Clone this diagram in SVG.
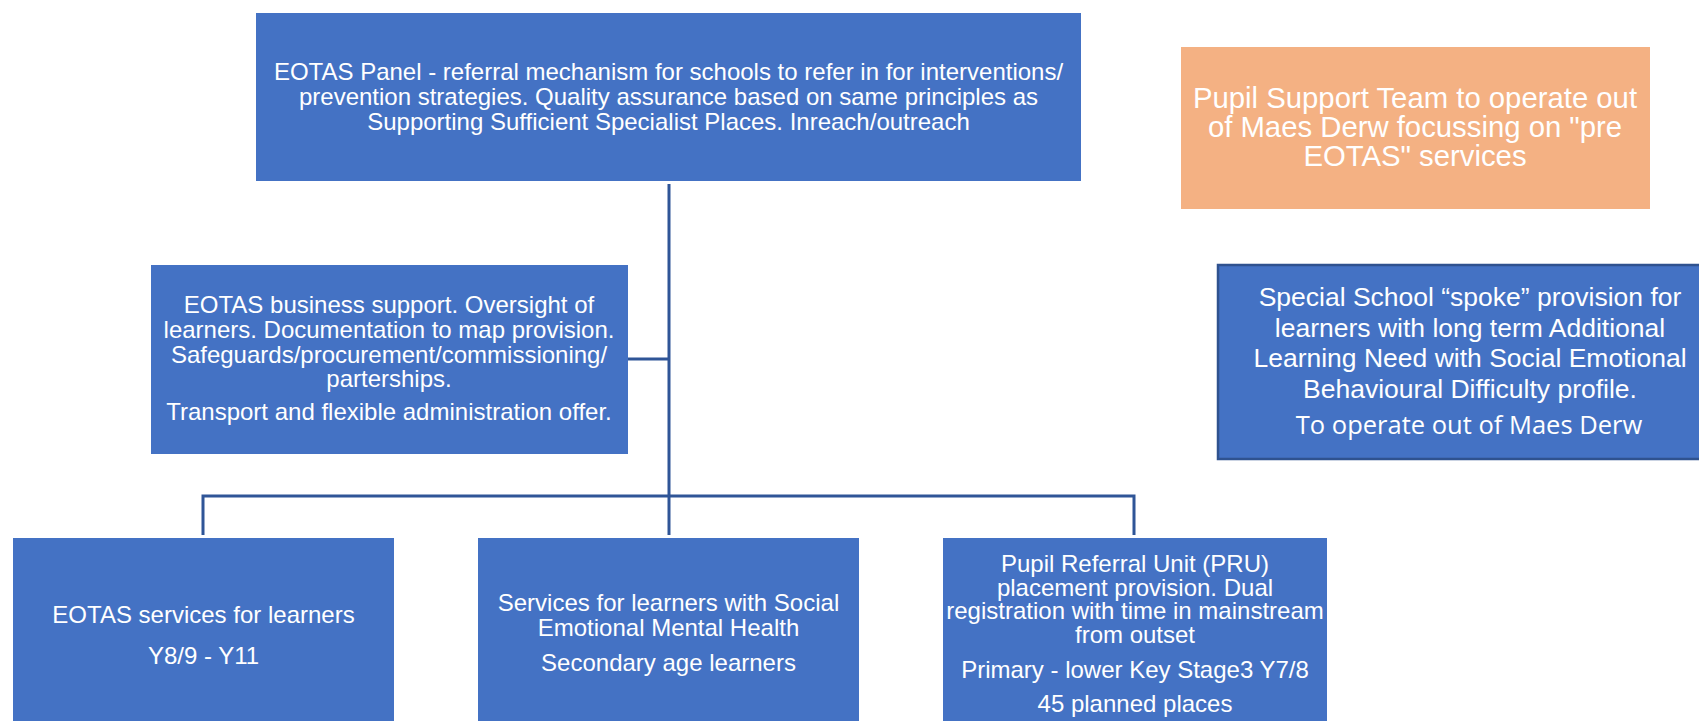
<svg xmlns="http://www.w3.org/2000/svg" width="1699" height="721" viewBox="0 0 1699 721">
<style>
.box{fill:#4472C4;}
.edge{fill:#4472C4;stroke:#2F528F;stroke-width:2.5;}
.orange{fill:#F4B183;}
.t{font-family:"Liberation Sans",Arial,sans-serif;fill:#FFFFFF;text-anchor:middle;}
.s24{font-size:24px;}
.s29{font-size:29.3px;}
.s26{font-size:26.5px;}
.os{font-family:"Open Sans","Noto Sans",sans-serif;fill:#FFFFFF;text-anchor:middle;font-size:25.5px;}
.conn{fill:none;stroke:#2F5597;stroke-width:3;}
</style>
<rect width="1699" height="721" fill="#FFFFFF"/>
<g id="connectors">
<line class="conn" x1="669" y1="184" x2="669" y2="496"/>
<line class="conn" x1="628" y1="359" x2="669" y2="359"/>
<polyline class="conn" points="203,535 203,496 1134,496 1134,535"/>
<line class="conn" x1="669" y1="496" x2="669" y2="535"/>
</g>
<g id="eotas-panel">
<rect class="box" x="256" y="13" width="825" height="168"/>
<text class="t s24" x="668.5" y="80">EOTAS Panel - referral mechanism for schools to refer in for interventions/</text>
<text class="t s24" x="668.5" y="104.5">prevention strategies. Quality assurance based on same principles as</text>
<text class="t s24" x="668.5" y="130">Supporting Sufficient Specialist Places. Inreach/outreach</text>
</g>
<g id="pupil-support-team">
<rect class="orange" x="1181" y="47" width="469" height="162"/>
<text class="t s29" x="1415" y="107.5">Pupil Support Team to operate out</text>
<text class="t s29" x="1415" y="137">of Maes Derw focussing on "pre</text>
<text class="t s29" x="1415" y="166">EOTAS" services</text>
</g>
<g id="special-school">
<rect class="edge" x="1218" y="265" width="500" height="194"/>
<text class="t s26" x="1470" y="306">Special School “spoke” provision for</text>
<text class="t s26" x="1470" y="336.5">learners with long term Additional</text>
<text class="t s26" x="1470" y="367">Learning Need with Social Emotional</text>
<text class="t s26" x="1470" y="397.5">Behavioural Difficulty profile.</text>
<text class="os" x="1469" y="434">To operate out of Maes Derw</text>
</g>
<g id="business-support">
<rect class="box" x="151" y="265" width="477" height="189"/>
<text class="t s24" x="389" y="313">EOTAS business support. Oversight of</text>
<text class="t s24" x="389" y="338">learners. Documentation to map provision.</text>
<text class="t s24" x="389" y="363">Safeguards/procurement/commissioning/</text>
<text class="t s24" x="389" y="387">parterships.</text>
<text class="t s24" x="389" y="420">Transport and flexible administration offer.</text>
</g>
<g id="eotas-services">
<rect class="box" x="13" y="538" width="381" height="190"/>
<text class="t s24" x="203.5" y="623">EOTAS services for learners</text>
<text class="t s24" x="203.5" y="664">Y8/9 - Y11</text>
</g>
<g id="semh-services">
<rect class="box" x="478" y="538" width="381" height="190"/>
<text class="t s24" x="668.5" y="611">Services for learners with Social</text>
<text class="t s24" x="668.5" y="636">Emotional Mental Health</text>
<text class="t s24" x="668.5" y="671">Secondary age learners</text>
</g>
<g id="pru">
<rect class="box" x="943" y="538" width="384" height="190"/>
<text class="t s24" x="1135" y="572">Pupil Referral Unit (PRU)</text>
<text class="t s24" x="1135" y="596">placement provision. Dual</text>
<text class="t s24" x="1135" y="619">registration with time in mainstream</text>
<text class="t s24" x="1135" y="643">from outset</text>
<text class="t s24" x="1135" y="678">Primary - lower Key Stage3 Y7/8</text>
<text class="t s24" x="1135" y="712">45 planned places</text>
</g>
</svg>
